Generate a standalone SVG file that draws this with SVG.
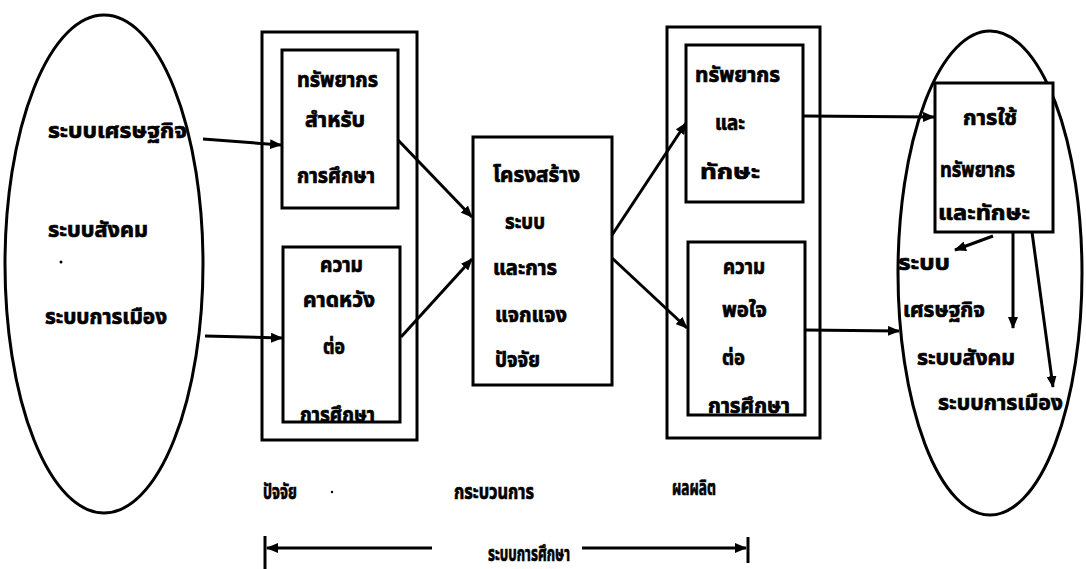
<svg xmlns="http://www.w3.org/2000/svg" width="1086" height="569" viewBox="0 0 1086 569">
  <defs>
    <marker id="head" viewBox="0 0 12 10" refX="11" refY="5" markerWidth="12" markerHeight="10" markerUnits="userSpaceOnUse" orient="auto">
      <path d="M0,0 L12,5 L0,10 Z" fill="#000"/>
    </marker>
    <style>
      .box { fill: #fff; stroke: #000; stroke-width: 3; }
      .outer { fill: none; stroke: #000; stroke-width: 3; }
      .ell { fill: none; stroke: #000; stroke-width: 3; }
      .link { fill: none; stroke: #000; stroke-width: 3; marker-end: url(#head); }
      .bar { fill: none; stroke: #000; stroke-width: 3; }
      text { font-family: "Noto Sans Thai", "Noto Sans", "DejaVu Sans", sans-serif; font-weight: bold; font-size: 21px; fill: #000; stroke: #000; stroke-width: 0.7; }
    </style>
  </defs>
  <rect width="1086" height="569" fill="#fff"/>

  <!-- environment (input side) -->
  <g id="env-in">
    <ellipse class="ell" cx="104" cy="264" rx="99" ry="249"/>
    <text x="48" y="138" textLength="139" lengthAdjust="spacingAndGlyphs">ระบบเศรษฐกิจ</text>
    <text x="48" y="237" textLength="100" lengthAdjust="spacingAndGlyphs">ระบบสังคม</text>
    <circle cx="61" cy="262" r="1.5" fill="#000"/>
    <text x="45" y="324" textLength="122" lengthAdjust="spacingAndGlyphs">ระบบการเมือง</text>
  </g>

  <!-- inputs -->
  <g id="inputs">
    <rect class="outer" x="262" y="32" width="155" height="408"/>
  </g>
  <g id="in-resources">
    <rect class="box" x="282" y="50" width="116" height="158"/>
    <text x="297" y="87" textLength="81" lengthAdjust="spacingAndGlyphs">ทรัพยากร</text>
    <text x="305" y="127" textLength="60" lengthAdjust="spacingAndGlyphs">สำหรับ</text>
    <text x="297" y="183" textLength="78" lengthAdjust="spacingAndGlyphs">การศึกษา</text>
  </g>
  <g id="in-expectation">
    <rect class="box" x="283" y="247" width="117" height="175"/>
    <text x="320" y="272" textLength="43" lengthAdjust="spacingAndGlyphs">ความ</text>
    <text x="303" y="307" textLength="72" lengthAdjust="spacingAndGlyphs">คาดหวัง</text>
    <text x="323" y="354" textLength="22" lengthAdjust="spacingAndGlyphs">ต่อ</text>
    <text x="300" y="422" textLength="75" lengthAdjust="spacingAndGlyphs">การศึกษา</text>
  </g>

  <!-- process -->
  <g id="process">
    <rect class="box" x="473" y="137" width="139" height="248"/>
    <text x="493" y="182" textLength="87" lengthAdjust="spacingAndGlyphs">โครงสร้าง</text>
    <text x="505" y="229" textLength="40" lengthAdjust="spacingAndGlyphs">ระบบ</text>
    <text x="493" y="275" textLength="64" lengthAdjust="spacingAndGlyphs">และการ</text>
    <text x="495" y="322" textLength="72" lengthAdjust="spacingAndGlyphs">แจกแจง</text>
    <text x="495" y="367" textLength="45" lengthAdjust="spacingAndGlyphs">ปัจจัย</text>
  </g>

  <!-- outputs -->
  <g id="outputs">
    <rect class="outer" x="667" y="27" width="153" height="411"/>
  </g>
  <g id="out-skills">
    <rect class="box" x="686" y="45" width="117" height="157"/>
    <text x="695" y="82" textLength="85" lengthAdjust="spacingAndGlyphs">ทรัพยากร</text>
    <text x="715" y="130" textLength="30" lengthAdjust="spacingAndGlyphs">และ</text>
    <text x="700" y="179" textLength="60" lengthAdjust="spacingAndGlyphs">ทักษะ</text>
  </g>
  <g id="out-satisfaction">
    <rect class="box" x="688" y="242" width="117" height="173"/>
    <text x="723" y="274" textLength="42" lengthAdjust="spacingAndGlyphs">ความ</text>
    <text x="722" y="317" textLength="45" lengthAdjust="spacingAndGlyphs">พอใจ</text>
    <text x="722" y="365" textLength="23" lengthAdjust="spacingAndGlyphs">ต่อ</text>
    <text x="708" y="413" textLength="82" lengthAdjust="spacingAndGlyphs">การศึกษา</text>
  </g>

  <!-- environment (output side) -->
  <g id="env-out">
    <ellipse class="ell" cx="990" cy="273" rx="92" ry="242"/>
    <text x="898" y="270" textLength="52" lengthAdjust="spacingAndGlyphs">ระบบ</text>
    <text x="903" y="317" textLength="82" lengthAdjust="spacingAndGlyphs">เศรษฐกิจ</text>
    <text x="917" y="365" textLength="98" lengthAdjust="spacingAndGlyphs">ระบบสังคม</text>
    <text x="938" y="410" textLength="125" lengthAdjust="spacingAndGlyphs">ระบบการเมือง</text>
  </g>
  <g id="use">
    <rect class="box" x="935" y="83" width="118" height="149"/>
    <text x="963" y="125" textLength="54" lengthAdjust="spacingAndGlyphs">การใช้</text>
    <text x="940" y="177" textLength="75" lengthAdjust="spacingAndGlyphs">ทรัพยากร</text>
    <text x="938" y="220" textLength="92" lengthAdjust="spacingAndGlyphs">และทักษะ</text>
  </g>

  <!-- stage labels and span -->
  <g id="stages">
    <text x="263" y="499" textLength="34" lengthAdjust="spacingAndGlyphs">ปัจจัย</text>
    <circle cx="332" cy="492" r="1.2" fill="#000"/>
    <text x="454" y="499" textLength="80" lengthAdjust="spacingAndGlyphs">กระบวนการ</text>
    <text x="672" y="495" textLength="44" lengthAdjust="spacingAndGlyphs">ผลผลิต</text>
    <text x="488" y="561" textLength="82" lengthAdjust="spacingAndGlyphs">ระบบการศึกษา</text>
    <line class="bar" x1="265" y1="536" x2="265" y2="569"/>
    <line class="bar" x1="748" y1="537" x2="748" y2="563"/>
  </g>

  <!-- connectors -->
  <g id="connectors">
    <line class="link" x1="203" y1="139" x2="281" y2="145"/>
    <line class="link" x1="205" y1="336" x2="282" y2="338"/>
    <line class="link" x1="398" y1="140" x2="472" y2="217"/>
    <line class="link" x1="401" y1="337" x2="472" y2="259"/>
    <line class="link" x1="612" y1="235" x2="686" y2="123"/>
    <line class="link" x1="612" y1="258" x2="687" y2="328"/>
    <line class="link" x1="803" y1="116" x2="934" y2="117"/>
    <line class="link" x1="805" y1="330" x2="899" y2="331"/>
    <line class="link" x1="993" y1="236" x2="955" y2="250"/>
    <line class="link" x1="1013" y1="232" x2="1013" y2="328"/>
    <line class="link" x1="1032" y1="232" x2="1053" y2="387"/>
    <line class="link" x1="432" y1="548" x2="267" y2="548"/>
    <line class="link" x1="582" y1="548" x2="746" y2="548"/>
  </g>
</svg>
